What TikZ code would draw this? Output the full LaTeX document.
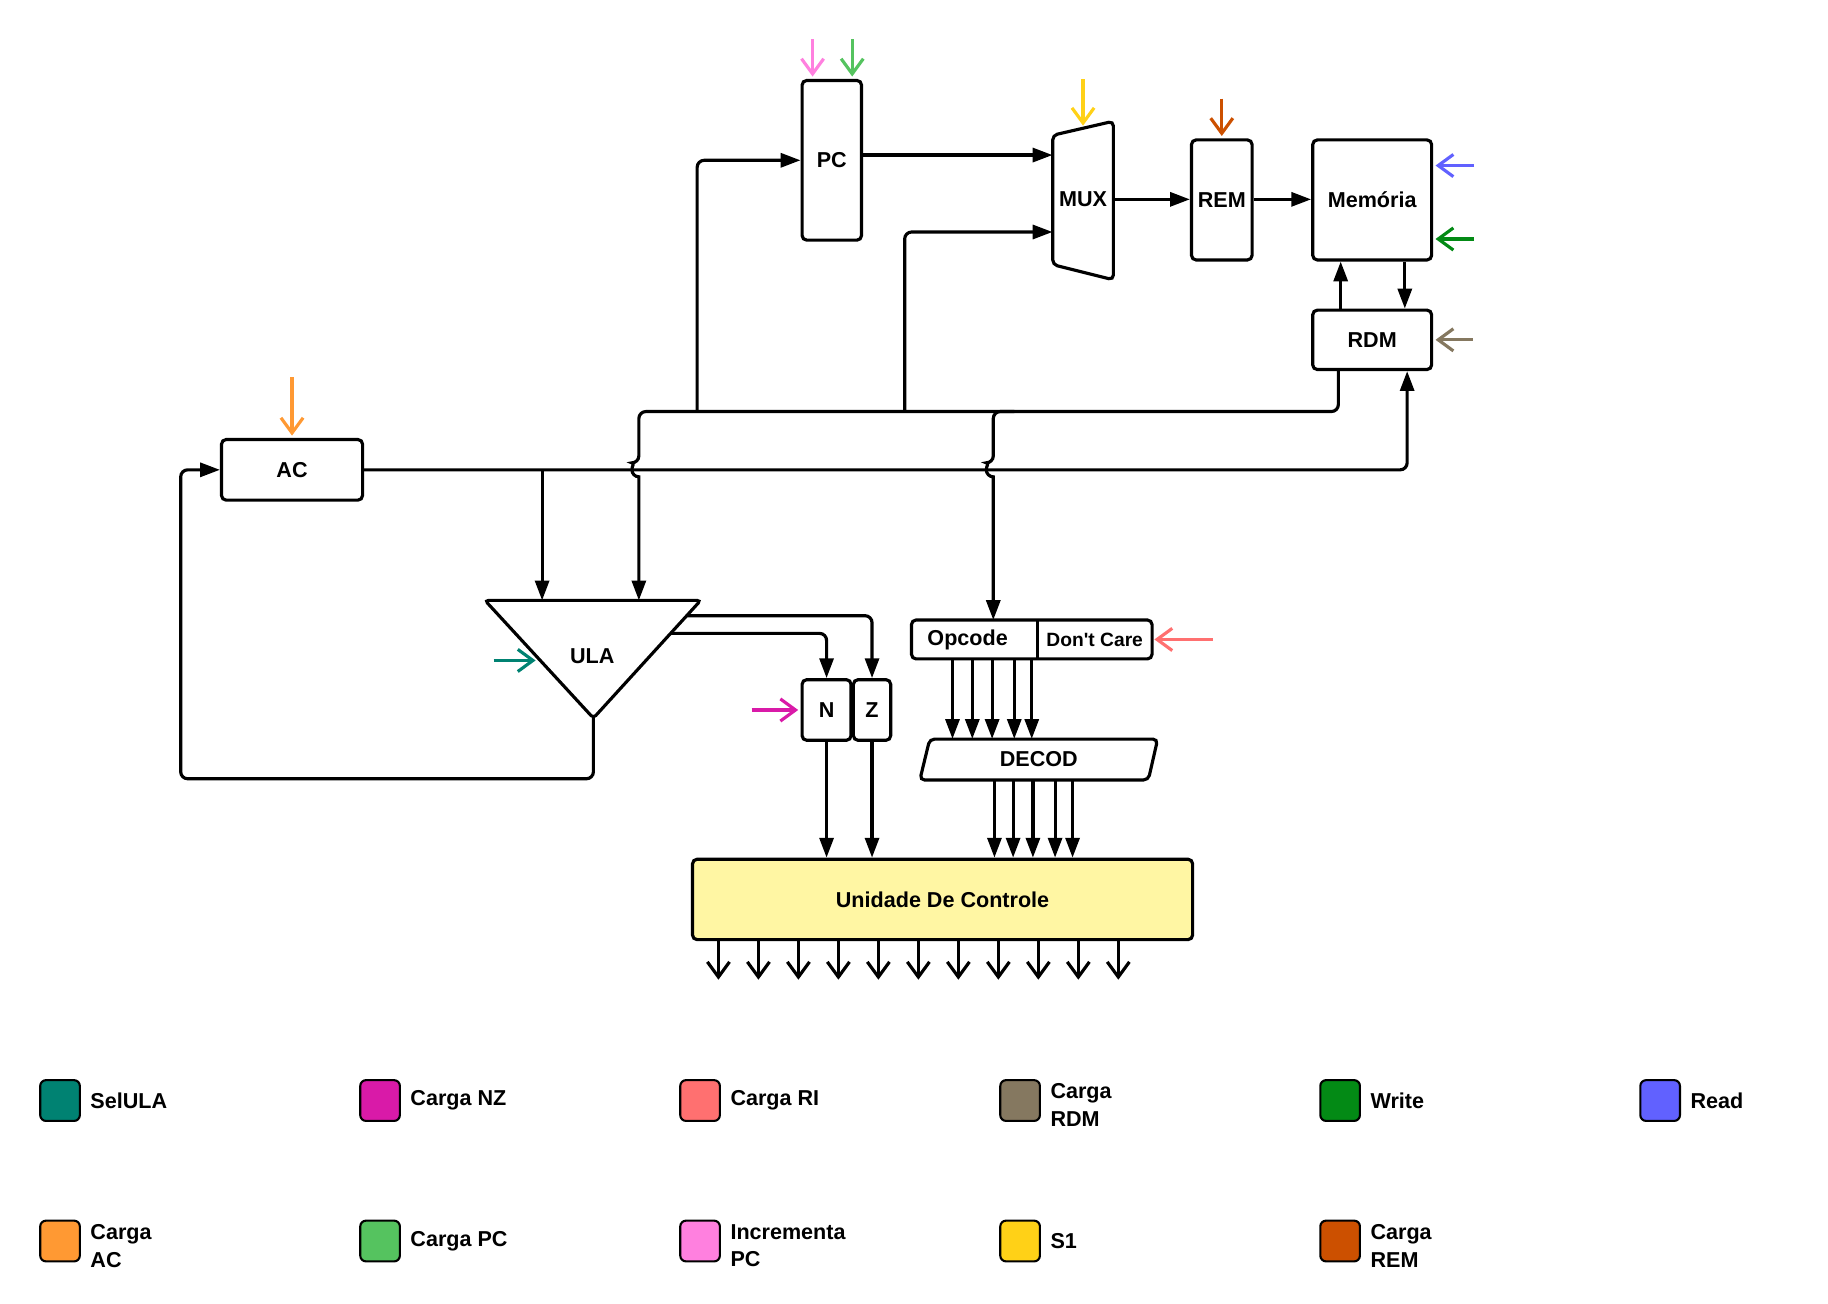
\documentclass[tikz,border=0pt]{standalone}
\usepackage{fontspec}
\setmainfont{Liberation Sans}[Ligatures=TeXOff]
\usetikzlibrary{arrows.meta,calc}
\definecolor{selula}{HTML}{008272}
\definecolor{cnz}{HTML}{D91AA8}
\definecolor{cri}{HTML}{FF7070}
\definecolor{crdm}{HTML}{857860}
\definecolor{cwr}{HTML}{038A15}
\definecolor{crd}{HTML}{6161FF}
\definecolor{cac}{HTML}{FF9933}
\definecolor{cpc}{HTML}{55C35F}
\definecolor{cinc}{HTML}{FF80DF}
\definecolor{cs}{HTML}{FFD117}
\definecolor{crem}{HTML}{CC5000}
\definecolor{ucfill}{HTML}{FFF6A3}
\tikzset{lbl/.style={font=\fontsize{18.5}{24}\selectfont\bfseries,inner sep=0pt},blk/.style={lbl,draw,line width=2.7pt,rounded corners=4pt,fill=white},wire/.style={line width=2.7pt,rounded corners=6pt},arr/.style={wire,-{Triangle[length=17pt,width=12pt]}},sig/.style={line width=2.7pt,-{Straight Barb[length=13pt,width=19pt]}},swatch/.style={draw,line width=1.8pt,rounded corners=5pt,minimum width=34pt,minimum height=35pt},swtxt/.style={lbl,anchor=west,align=left,inner sep=1pt}}

\begin{document}
\begin{tikzpicture}[x=1pt,y=-1pt]
\useasboundingbox (0,0) rectangle (1568,1118);
\node[blk,minimum width=51pt,minimum height=137pt] (pc) at (713.5,137.5) {PC};
\node[lbl,minimum width=52pt,minimum height=136pt] (mux) at (929,171) {MUX};
\draw[line width=2.7pt,rounded corners=4pt] (903,116) -- (955,104) -- (955,240) -- (903,227) -- cycle;
\node[blk,minimum width=52pt,minimum height=103pt] (rem) at (1048,171.5) {REM};
\node[blk,minimum width=102pt,minimum height=103pt] (mem) at (1177,171.5) {Memória};
\node[blk,minimum width=102pt,minimum height=51pt] (rdm) at (1177,291.5) {RDM};
\node[blk,minimum width=121pt,minimum height=52pt] (ac) at (250.5,403) {AC};
\draw[line width=2.7pt,rounded corners=3pt] (416,515) coordinate (ulatl) -- (601,515) coordinate (ulatr) -- (509,616) coordinate (ulab) -- cycle;
\node[lbl] (ula) at (508,563) {ULA};
\node[blk,minimum width=42pt,minimum height=52pt] (n) at (709,609) {N};
\node[blk,minimum width=32pt,minimum height=52pt] (z) at (748,609) {Z};
\node[lbl,minimum width=108pt,minimum height=33pt] (opc) at (836,548.5) {\hspace*{-12pt}Opcode};
\node[lbl,font=\fontsize{16.5}{20}\selectfont\bfseries,minimum width=98pt,minimum height=33pt] (dc) at (939,548.5) {Don't Care};
\draw[line width=2.7pt,rounded corners=4pt] (opc.south west) rectangle (dc.north east);
\draw[line width=2.7pt] (opc.north east) -- (opc.south east);
\node[lbl,minimum width=188pt,minimum height=35pt] (decod) at (891,651.5) {DECOD};
\draw[line width=2.7pt,rounded corners=4pt] (797.5,634) -- (993,634) -- (985,669) -- (789,669) -- cycle;
\node[blk,fill=ucfill,minimum width=429pt,minimum height=69pt] (uc) at (808.5,771.5) {Unidade De Controle};
% bus junctions
\coordinate (bpc) at (598,353);
\coordinate (bmx) at (776,353);
\coordinate (bop) at (870,353);
\coordinate (jac) at (465,403);
\coordinate (fb) at (155,668);
% datapath
\draw[arr] (pc.east |- 0,133) -- (mux.west |- 0,133);
\draw[arr] (mux.east |- 0,171) -- (rem.west |- 0,171);
\draw[arr] (rem.east |- 0,171) -- (mem.west |- 0,171);
\draw[arr] ([xshift=-27pt]rdm.north) -- ([xshift=-27pt]mem.south);
\draw[arr] ([xshift=28pt]mem.south) -- ([xshift=28pt]rdm.north);
\draw[arr] (ac.east) -| ([xshift=30pt]rdm.south);
\draw[arr] ([xshift=-29pt]rdm.south) |- (548,353) -- (548,397) [sharp corners] arc[start angle=90,end angle=270,radius=6pt] -- (548,0 |- ulatl);
\draw[arr] (bop) -| (852,397) [sharp corners] arc[start angle=90,end angle=270,radius=6pt] -- (852,0 |- opc.north);
\draw[arr] (bpc) |- (pc.west);
\draw[arr] (bmx) |- (mux.west |- 0,199);
\draw[arr] (jac) -- (jac |- ulatl);
\draw[arr] (ulab) |- (fb) |- (ac.west);
\draw[arr] ($(ulatr)!0.13!(ulab)$) -| (z.north);
\draw[arr] ($(ulatr)!0.28!(ulab)$) -| (n.north);
\foreach \r in {n,z}{\draw[arr] (\r.south) -- (\r.south |- uc.north);}
\foreach \x in {817,834,851,870,885}{\draw[arr] (\x,0 |- opc.south) -- (\x,0 |- decod.north);}
\foreach \x in {853,869,886,905,920}{\draw[arr] (\x,0 |- decod.south) -- (\x,0 |- uc.north);}
\foreach \i in {0,...,10}{\draw[sig] (uc.south west) ++({23.6+34.3*\i},0) -- ++(0,33);}
% control signals
\draw[sig,cinc] ([xshift=-16.5pt]pc.north) ++(0,-34) -- ++(0,32);
\draw[sig,cpc] ([xshift=17.5pt]pc.north) ++(0,-34) -- ++(0,32);
\draw[sig,cs] (mux.north) ++(0,-35) -- ++(0,40);
\draw[sig,crem] (rem.north) ++(0,-34) -- ++(0,32);
\draw[sig,crd] (mem.east) ++(35,-29.5) -- ++(-33,0);
\draw[sig,cwr] (mem.east) ++(35,33.5) -- ++(-33,0);
\draw[sig,crdm] (rdm.east) ++(34,0) -- ++(-32,0);
\draw[sig,cac] (ac.north) ++(0,-52) -- ++(0,50);
\draw[sig,selula] ($(ulatl)!0.51!(ulab)$) ++(-40,0) -- ++(36,0);
\draw[sig,cnz] (n.west) ++(-42,0) -- ++(40,0);
\draw[sig,cri] (dc.east) ++(52,0) -- ++(-50,0);
% legend
\foreach \c/\t/\d [count=\i from 0] in {selula/SelULA/0,cnz/Carga NZ/0,cri/Carga RI/0,crdm/Carga\\RDM/4,cwr/Write/0,crd/Read/0}{\node[swatch,fill=\c] (ka\i) at ({51.5+274.5*\i},944) {};\node[swtxt] at ($(ka\i.east)+(7,\d)$) {\t};}
\foreach \c/\t/\d [count=\i from 0] in {cac/Carga\\AC/4,cpc/Carga PC/0,cinc/Incrementa\\PC/4,cs/S1/0,crem/Carga\\REM/4}{\node[swatch,fill=\c] (kb\i) at ({51.5+274.5*\i},1064.5) {};\node[swtxt] at ($(kb\i.east)+(7,\d)$) {\t};}
\end{tikzpicture}
\end{document}
